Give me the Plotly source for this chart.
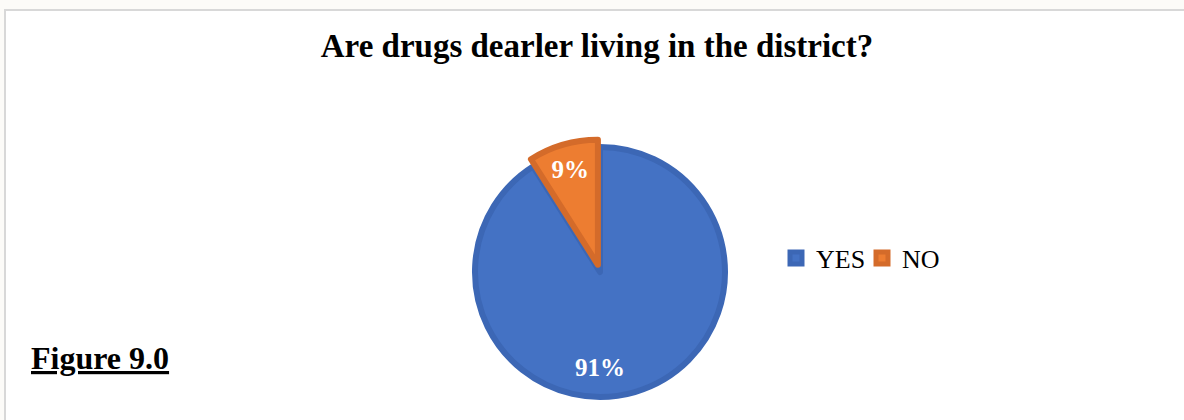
import plotly.graph_objects as go

labels = ["YES", "NO"]
values = [91, 9]
colors = ["#4472C4", "#ED7D31"]
border_colors = ["#3C67B5", "#D46B2A"]
pulls = [0.0, 0.06]

W, H = 1184, 420
serif = "Liberation Serif, Times New Roman, serif"

cx, cy, R = 600, 272, 125
half = R * (1 + max(pulls))
dom = dict(x=[(cx - half) / W, (cx + half) / W],
           y=[1 - (cy + half) / H, 1 - (cy - half) / H])

fig = go.Figure()
# slices and legend
fig.add_trace(go.Pie(
    labels=labels,
    values=values,
    sort=False,
    direction="clockwise",
    rotation=0,
    pull=pulls,
    marker=dict(colors=colors, line=dict(color=border_colors, width=6)),
    textinfo="none",
    domain=dom,
    hoverinfo="label+percent",
))
# percentage labels placed near the outer edge (transparent ring over the slices)
fig.add_trace(go.Pie(
    labels=labels,
    values=values,
    sort=False,
    direction="clockwise",
    rotation=0,
    pull=pulls,
    hole=0.58,
    marker=dict(colors=["rgba(0,0,0,0)"] * len(labels), line=dict(width=0)),
    texttemplate="%{percent:.0%}",
    textposition="inside",
    insidetextorientation="horizontal",
    textfont=dict(family=serif, size=25, color="white", weight="bold"),
    domain=dom,
    showlegend=False,
    hoverinfo="skip",
))

fig.update_layout(
    width=W, height=H,
    margin=dict(l=0, r=0, t=0, b=0),
    paper_bgcolor="#fcfbf8",
    plot_bgcolor="white",
    title=dict(text="<b>Are drugs dearler living in the district?</b>",
               font=dict(family=serif, size=33, color="black"),
               x=597 / W, xanchor="center", y=1 - 45 / H, yanchor="middle"),
    legend=dict(orientation="h", x=776 / W, xanchor="left", y=1 - 258 / H, yanchor="middle",
                entrywidth=41, entrywidthmode="pixels",
                font=dict(family=serif, size=26, color="black"),
                bgcolor="rgba(0,0,0,0)"),
    shapes=[dict(type="rect", xref="paper", yref="paper", layer="below",
                 x0=5 / W, x1=1.02, y0=-0.02, y1=1 - 10 / H,
                 fillcolor="white", line=dict(color="#d8d8d8", width=2))],
    annotations=[dict(text="<b><u>Figure 9.0</u></b>", xref="paper", yref="paper",
                      x=29 / W, y=1 - 358 / H, xanchor="left", yanchor="middle",
                      showarrow=False, font=dict(family=serif, size=32, color="black"))],
)

fig.write_html("out.html")
